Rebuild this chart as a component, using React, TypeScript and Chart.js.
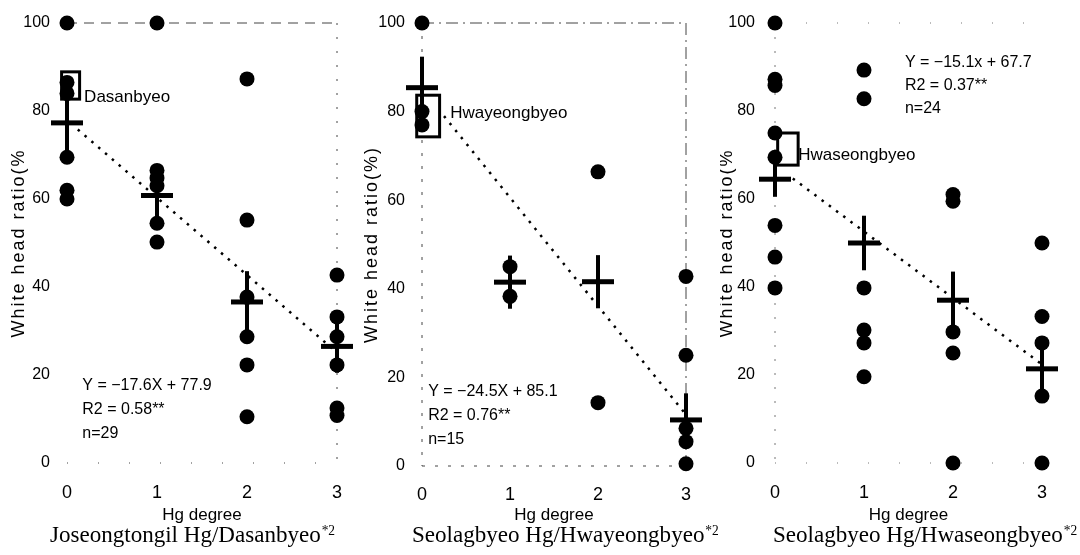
import React, { useEffect, useRef } from "react";
import { Chart, registerables } from "chart.js";

Chart.register(...registerables);

const hgDegrees = [0, 1, 2, 3];
const ratioTicks = [0, 20, 40, 60, 80, 100];

// Panel 1 — Joseongtongil Hg / Dasanbyeo
const joseongRatios = [
  [100, 86.5, 84, 69.5, 62, 60],
  [100, 66.5, 64.8, 63, 54.5, 50.2],
  [87.3, 55.2, 37.7, 28.7, 22.3, 10.5],
  [42.7, 33.2, 28.7, 22.3, 12.5, 10.8],
];
const joseongMeans = [77.3, 60.8, 36.6, 26.5];
const joseongErrors = [7, 6, 7, 6];
const joseongFit = [-17.6, 77.9];
const joseongStats = ["Y = −17.6X + 77.9", "R2 = 0.58**", "n=29"];

// Panel 2 — Seolagbyeo Hg / Hwayeongbyeo
const hwayeongRatios = [
  [100, 80, 77],
  [45, 38.3],
  [66.4, 14.3],
  [42.8, 25, 8.5, 5.5, 0.5],
];
const hwayeongMeans = [85.4, 41.5, 41.6, 10.4];
const hwayeongErrors = [7, 6, 6, 6];
const hwayeongFit = [-24.5, 85.1];
const hwayeongStats = ["Y = −24.5X + 85.1", "R2 = 0.76**", "n=15"];

// Panel 3 — Seolagbyeo Hg / Hwaseongbyeo
const hwaseongRatios = [
  [100, 87.2, 85.8, 75, 69.5, 54, 46.8, 39.8],
  [89.3, 82.8, 39.8, 30.2, 27.3, 19.6],
  [61, 59.5, 29.8, 25, 0],
  [50, 33.3, 27.3, 15.2, 0],
];
const hwaseongMeans = [64.5, 50, 37, 21.4];
const hwaseongErrors = [4, 6.2, 6.5, 5];
const hwaseongFit = [-15.1, 67.7];
const hwaseongStats = ["Y = −15.1x + 67.7", "R2 = 0.37**", "n=24"];

const SANS = '"Liberation Sans", Arial, sans-serif';
const SERIF = '"Liberation Serif", "Times New Roman", serif';
const CANVAS_W = 360;
const CANVAS_H = 555;

type Frame = {
  top?: number[];
  right?: number[];
  bottom?: number[];
  left?: number[];
  color: string;
  width: number;
};

interface PanelSpec {
  ratios: number[][];
  means: number[];
  errors: number[];
  fit: number[];
  fitStart: number;
  stats: string[];
  statsAt: [number, number];
  statsGap: number;
  variety: string;
  varietyAt: [number, number];
  box: [number, number, number, number];
  yTitle: string;
  caption: string;
  canvasLeft: number;
  area: [number, number, number, number];
  yTickPad: number;
  xTickPad: number;
  yTitleX: number;
  captionLeft: number;
  frame: Frame;
}

const panels: PanelSpec[] = [
  {
    ratios: joseongRatios,
    means: joseongMeans,
    errors: joseongErrors,
    fit: joseongFit,
    fitStart: 0.12,
    stats: joseongStats,
    statsAt: [0.17, 17.7],
    statsGap: 24,
    variety: "Dasanbyeo",
    varietyAt: [0.19, 83.2],
    box: [-0.06, 0.14, 82.7, 88.9],
    yTitle: "White head ratio(%",
    caption: "Joseongtongil Hg/Dasanbyeo",
    canvasLeft: 0,
    area: [67, 337, 23, 463],
    yTickPad: 17,
    xTickPad: 19,
    yTitleX: 19,
    captionLeft: 50,
    frame: { top: [10, 7], right: [2, 12], bottom: [1, 30], color: "#444", width: 1 },
  },
  {
    ratios: hwayeongRatios,
    means: hwayeongMeans,
    errors: hwayeongErrors,
    fit: hwayeongFit,
    fitStart: 0.25,
    stats: hwayeongStats,
    statsAt: [0.07, 16.7],
    statsGap: 24,
    variety: "Hwayeongbyeo",
    varietyAt: [0.32, 79.7],
    box: [-0.06, 0.2, 74.3, 83.7],
    yTitle: "White head ratio(%)",
    caption: "Seolagbyeo Hg/Hwayeongbyeo",
    canvasLeft: 360,
    area: [62, 326, 23, 466],
    yTickPad: 17,
    xTickPad: 18,
    yTitleX: 12,
    captionLeft: 52,
    frame: {
      top: [12, 5, 2, 5],
      right: [12, 5, 2, 5],
      bottom: [3, 10],
      left: [3, 10],
      color: "#444",
      width: 1,
    },
  },
  {
    ratios: hwaseongRatios,
    means: hwaseongMeans,
    errors: hwaseongErrors,
    fit: hwaseongFit,
    fitStart: 0.2,
    stats: hwaseongStats,
    statsAt: [1.46, 91.1],
    statsGap: 23,
    variety: "Hwaseongbyeo",
    varietyAt: [0.26, 70],
    box: [0.03, 0.26, 67.7, 75],
    yTitle: "White head ratio(%",
    caption: "Seolagbyeo Hg/Hwaseongbyeo",
    canvasLeft: 720,
    area: [55, 322, 23, 463],
    yTickPad: 20,
    xTickPad: 19,
    yTitleX: 7,
    captionLeft: 53,
    frame: { top: [1, 30], left: [2, 12], bottom: [1, 30], color: "#777", width: 1 },
  },
];

function makeDecor(spec: PanelSpec) {
  return {
    id: "decor",
    beforeDatasetsDraw(chart: any) {
      const { ctx, chartArea: a } = chart;
      const f = spec.frame;
      ctx.save();
      ctx.strokeStyle = f.color;
      ctx.lineWidth = f.width;
      const seg = (dash: number[] | undefined, x1: number, y1: number, x2: number, y2: number) => {
        if (!dash) return;
        ctx.setLineDash(dash);
        ctx.beginPath();
        ctx.moveTo(x1, y1);
        ctx.lineTo(x2, y2);
        ctx.stroke();
      };
      seg(f.top, a.left, a.top, a.right, a.top);
      seg(f.right, a.right, a.top, a.right, a.bottom);
      seg(f.bottom, a.left, a.bottom, a.right, a.bottom);
      seg(f.left, a.left, a.top, a.left, a.bottom);
      ctx.restore();
    },
    afterDatasetsDraw(chart: any) {
      const { ctx, chartArea: a } = chart;
      const x = chart.scales.x;
      const y = chart.scales.y;
      ctx.save();
      ctx.setLineDash([]);
      ctx.strokeStyle = "#000";
      ctx.fillStyle = "#000";
      // error bars
      ctx.lineWidth = 4;
      spec.means.forEach((m, i) => {
        const px = x.getPixelForValue(hgDegrees[i]);
        ctx.beginPath();
        ctx.moveTo(px, y.getPixelForValue(m + spec.errors[i]));
        ctx.lineTo(px, y.getPixelForValue(m - spec.errors[i]));
        ctx.stroke();
      });
      // control variety box
      const [bx0, bx1, by0, by1] = spec.box;
      const l = x.getPixelForValue(bx0);
      const r = x.getPixelForValue(bx1);
      const t = y.getPixelForValue(by1);
      const b = y.getPixelForValue(by0);
      ctx.lineWidth = 3;
      ctx.strokeRect(l, t, r - l, b - t);
      // variety label
      ctx.font = `17px ${SANS}`;
      ctx.textAlign = "left";
      ctx.textBaseline = "middle";
      ctx.fillText(spec.variety, x.getPixelForValue(spec.varietyAt[0]), y.getPixelForValue(spec.varietyAt[1]));
      // regression stats
      ctx.font = `16px ${SANS}`;
      const sx = x.getPixelForValue(spec.statsAt[0]);
      const sy = y.getPixelForValue(spec.statsAt[1]);
      spec.stats.forEach((s, i) => ctx.fillText(s, sx, sy + i * spec.statsGap));
      // y title
      ctx.save();
      ctx.translate(spec.yTitleX, (a.top + a.bottom) / 2);
      ctx.rotate(-Math.PI / 2);
      ctx.font = `18px ${SANS}`;
      (ctx as any).letterSpacing = "2px";
      ctx.textAlign = "center";
      ctx.fillText(spec.yTitle, 0, 0);
      ctx.restore();
      // x title
      ctx.font = `17px ${SANS}`;
      ctx.textAlign = "center";
      ctx.fillText("Hg degree", (a.left + a.right) / 2, 515);
      // caption with superscript
      ctx.save();
      ctx.translate(spec.captionLeft, 542);
      ctx.scale(0.96, 1);
      ctx.textAlign = "left";
      ctx.textBaseline = "alphabetic";
      ctx.font = `24px ${SERIF}`;
      ctx.fillText(spec.caption, 0, 0);
      const w = ctx.measureText(spec.caption).width;
      ctx.font = `14px ${SERIF}`;
      ctx.fillText("*2", w + 1, -7);
      ctx.restore();
      ctx.restore();
    },
  };
}

function Panel({ spec }: { spec: PanelSpec }) {
  const ref = useRef<HTMLCanvasElement | null>(null);
  useEffect(() => {
    if (!ref.current) return;
    const [aLeft, aRight, aTop, aBottom] = spec.area;
    const points = spec.ratios.flatMap((vals, i) => vals.map((v) => ({ x: hgDegrees[i], y: v })));
    const meanPts = spec.means.map((m, i) => ({ x: hgDegrees[i], y: m }));
    const x0 = spec.fitStart;
    const x1 = hgDegrees[hgDegrees.length - 1];
    const fitPts = [
      { x: x0, y: spec.fit[0] * x0 + spec.fit[1] },
      { x: x1, y: spec.fit[0] * x1 + spec.fit[1] },
    ];
    const chart = new Chart(ref.current, {
      type: "scatter",
      data: {
        datasets: [
          {
            type: "scatter",
            data: points,
            pointRadius: 7.5,
            pointBackgroundColor: "#000",
            pointBorderWidth: 0,
            clip: false,
          } as any,
          {
            type: "scatter",
            data: meanPts,
            pointStyle: "line",
            pointRadius: 16,
            pointBorderWidth: 5,
            pointBorderColor: "#000",
            clip: false,
          } as any,
          {
            type: "line",
            data: fitPts,
            borderColor: "#000",
            borderWidth: 2.5,
            borderDash: [2.5, 6.5],
            pointRadius: 0,
            fill: false,
            clip: false,
          } as any,
        ],
      },
      options: {
        animation: false,
        responsive: false,
        maintainAspectRatio: false,
        events: [],
        layout: { padding: { left: 0, right: CANVAS_W - aRight, top: aTop, bottom: 0 } },
        plugins: { legend: { display: false }, tooltip: { enabled: false }, title: { display: false } },
        scales: {
          x: {
            type: "linear",
            min: hgDegrees[0],
            max: hgDegrees[hgDegrees.length - 1],
            afterBuildTicks: (s: any) => {
              s.ticks = hgDegrees.map((v) => ({ value: v }));
            },
            afterFit: (s: any) => {
              s.height = CANVAS_H - aBottom;
              s.paddingLeft = 0;
              s.paddingRight = 0;
            },
            grid: { display: false, drawTicks: false },
            border: { display: false },
            ticks: { padding: spec.xTickPad, color: "#000", font: { family: SANS, size: 18 }, maxRotation: 0 },
          },
          y: {
            type: "linear",
            min: ratioTicks[0],
            max: ratioTicks[ratioTicks.length - 1],
            afterBuildTicks: (s: any) => {
              s.ticks = ratioTicks.map((v) => ({ value: v }));
            },
            afterFit: (s: any) => {
              s.width = aLeft;
              s.paddingTop = 0;
              s.paddingBottom = 0;
            },
            grid: { display: false, drawTicks: false },
            border: { display: false },
            ticks: { padding: spec.yTickPad, color: "#000", font: { family: SANS, size: 16 } },
          },
        },
      } as any,
      plugins: [makeDecor(spec)],
    });
    return () => chart.destroy();
  }, [spec]);
  return (
    <canvas
      ref={ref}
      width={CANVAS_W}
      height={CANVAS_H}
      style={{ position: "absolute", left: spec.canvasLeft, top: 0, width: CANVAS_W, height: CANVAS_H, display: "block" }}
    />
  );
}

export default function App() {
  return (
    <div style={{ position: "absolute", left: 0, top: 0, width: 1080, height: 555, background: "#fff", overflow: "hidden" }}>
      {panels.map((p, i) => (
        <Panel key={i} spec={p} />
      ))}
    </div>
  );
}
